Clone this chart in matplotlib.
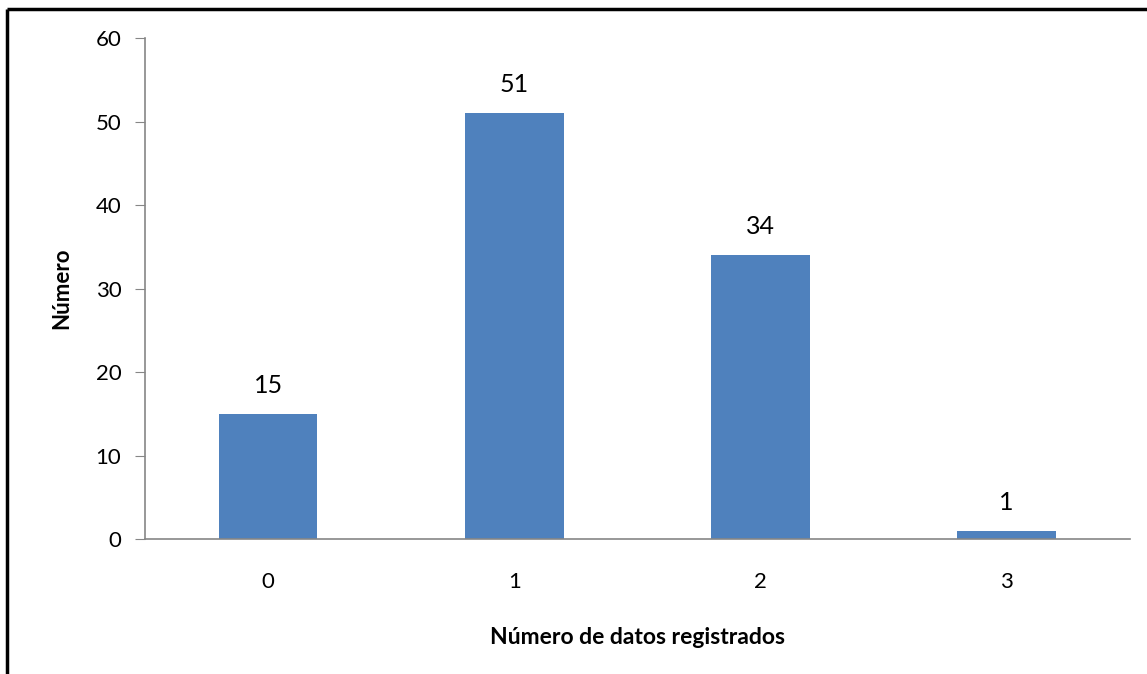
import matplotlib.pyplot as plt
from matplotlib.lines import Line2D

plt.rcParams['font.family'] = ['Lato', 'DejaVu Sans']

categorias = ['0', '1', '2', '3']
valores = [15, 51, 34, 1]
yticks = [0, 10, 20, 30, 40, 50, 60]

azul = '#4F81BD'
gris = '#868686'

fig = plt.figure(figsize=(11.47, 6.74), dpi=100)
ax = fig.add_axes([0.1264, 0.2003, 0.8586, 0.7433])

pos = range(len(categorias))
barras = ax.bar(pos, valores, width=0.4, color=azul, zorder=2)
for b, v in zip(barras, valores):
    ax.text(b.get_x() + b.get_width() / 2, v + 2.0, str(v),
            ha='center', va='bottom', fontsize=18, color='black')

ax.set_xlim(-0.5, len(categorias) - 0.5)
ax.set_ylim(0, 60)
ax.set_yticks(yticks)
ax.set_xticks(list(pos))
ax.set_xticklabels(categorias)
ax.tick_params(axis='y', direction='out', length=7, color=gris, labelsize=16, pad=10)
ax.tick_params(axis='x', length=0, labelsize=16, pad=24)

for s in ['top', 'right']:
    ax.spines[s].set_visible(False)
for s in ['left', 'bottom']:
    ax.spines[s].set_color(gris)
    ax.spines[s].set_linewidth(1.2)

ax.set_xlabel('Número de datos registrados', fontsize=16.5, fontweight='bold', labelpad=25)
ax.set_ylabel('Número', fontsize=16, fontweight='bold', labelpad=17)

# marco recortado (solo arriba e izquierda)
fig.add_artist(Line2D([7 / 1147, 1], [1 - 9 / 674, 1 - 9 / 674], transform=fig.transFigure,
                      color='black', lw=2.5, solid_capstyle='butt'))
fig.add_artist(Line2D([7 / 1147, 7 / 1147], [0, 1 - 9 / 674], transform=fig.transFigure,
                      color='black', lw=2.5, solid_capstyle='butt'))

fig.savefig('out.png', dpi=100)
